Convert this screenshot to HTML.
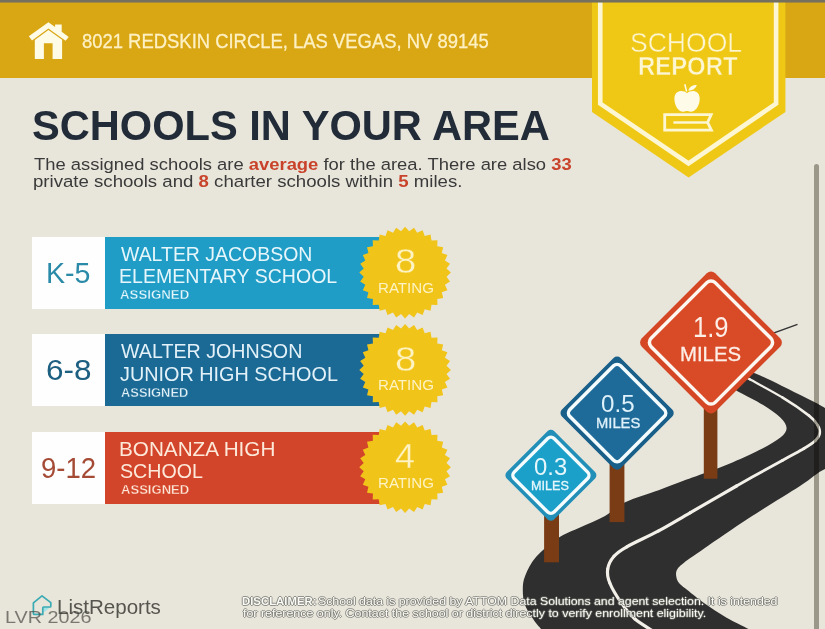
<!DOCTYPE html>
<html><head><meta charset="utf-8">
<style>
html,body{margin:0;padding:0;}
body{width:825px;height:629px;overflow:hidden;position:relative;background:#e8e5db;font-family:"Liberation Sans",sans-serif;}
.a{position:absolute;white-space:nowrap;}
.t{position:absolute;white-space:nowrap;line-height:1;transform-origin:0 0;}
.t b{font-weight:700;}
#b1 b,#b2 b{color:#c9432b;}
</style></head><body>
<div class="a" style="left:0;top:2px;width:825px;height:75.5px;background:#d9a614"></div>
<div class="a" style="left:32px;top:236.8px;width:73px;height:72px;background:#fefefe"></div>
<div class="a" style="left:105px;top:236.8px;width:275px;height:72px;background:#1f9dc6"></div>
<div class="a" style="left:32px;top:334.2px;width:73px;height:72px;background:#fefefe"></div>
<div class="a" style="left:105px;top:334.2px;width:275px;height:72px;background:#1b6a95"></div>
<div class="a" style="left:32px;top:431.6px;width:73px;height:72px;background:#fefefe"></div>
<div class="a" style="left:105px;top:431.6px;width:275px;height:72px;background:#d3452a"></div>
<svg class="a" style="left:0;top:0" width="825" height="629" viewBox="0 0 825 629">
<g fill="#fefbe6"><polygon points="28.8,36.2 48.4,22.2 55.1,27 55.1,24.6 61.7,24.6 61.7,31.7 68.7,36.9 65.6,40.7 48.4,28.5 32,40.4"/><path d="M34.8,58.9 L34.8,39.9 L48.4,29.9 L62.1,39.7 L62.1,58.9 L52.6,58.9 L52.6,43.2 L43.9,43.2 L43.9,58.9 Z"/></g>
<polygon fill="#efc816" points="592,0 785.4,0 785.4,112 688.6,177.6 592,112"/>
<polyline fill="none" stroke="#fdf6d2" stroke-width="4.6" stroke-linejoin="miter" points="600.25,0 600.25,103.6 688.5,163.4 776.1,103.6 776.1,0"/>
<g fill="#fefbe8"><path d="M687,93.2 C683.5,89.6 674.4,89.6 674.4,98.8 C674.4,106 678.6,111.8 683.2,111.8 C685.2,111.8 686,111.1 687,111.1 C688,111.1 688.8,111.8 690.8,111.8 C695.4,111.8 699.7,106 699.7,98.8 C699.7,89.6 690.5,89.6 687,93.2 Z"/><path d="M688.3,90.5 C689.5,86.5 693,84.8 696.8,84.9 C695.6,88.6 692.2,90.6 688.3,90.5 Z"/></g>
<path d="M684.8,84.2 L686.6,91.5" stroke="#fefbe8" stroke-width="1.5" fill="none"/>
<path d="M664.7,114.6 L711.2,114.6 L707.6,122.4 L711.4,130.2 L664.7,130.2 Z" fill="none" stroke="#fdf6d2" stroke-width="2.8" stroke-linejoin="miter"/>
<path d="M673.4,122.6 L708,122.6" stroke="#fdf6d2" stroke-width="2.5"/>
<polygon fill="#f1c419" points="405.10,226.80 409.18,231.20 414.04,227.68 417.18,232.79 422.63,230.29 424.71,235.91 430.55,234.52 431.49,240.44 437.49,240.21 437.26,246.21 443.18,247.15 441.79,252.99 447.41,255.07 444.91,260.52 450.02,263.66 446.50,268.52 450.90,272.60 446.50,276.68 450.02,281.54 444.91,284.68 447.41,290.13 441.79,292.21 443.18,298.05 437.26,298.99 437.49,304.99 431.49,304.76 430.55,310.68 424.71,309.29 422.63,314.91 417.18,312.41 414.04,317.52 409.18,314.00 405.10,318.40 401.02,314.00 396.16,317.52 393.02,312.41 387.57,314.91 385.49,309.29 379.65,310.68 378.71,304.76 372.71,304.99 372.94,298.99 367.02,298.05 368.41,292.21 362.79,290.13 365.29,284.68 360.18,281.54 363.70,276.68 359.30,272.60 363.70,268.52 360.18,263.66 365.29,260.52 362.79,255.07 368.41,252.99 367.02,247.15 372.94,246.21 372.71,240.21 378.71,240.44 379.65,234.52 385.49,235.91 387.57,230.29 393.02,232.79 396.16,227.68 401.02,231.20"/>
<polygon fill="#f1c419" points="405.10,324.10 409.18,328.50 414.04,324.98 417.18,330.09 422.63,327.59 424.71,333.21 430.55,331.82 431.49,337.74 437.49,337.51 437.26,343.51 443.18,344.45 441.79,350.29 447.41,352.37 444.91,357.82 450.02,360.96 446.50,365.82 450.90,369.90 446.50,373.98 450.02,378.84 444.91,381.98 447.41,387.43 441.79,389.51 443.18,395.35 437.26,396.29 437.49,402.29 431.49,402.06 430.55,407.98 424.71,406.59 422.63,412.21 417.18,409.71 414.04,414.82 409.18,411.30 405.10,415.70 401.02,411.30 396.16,414.82 393.02,409.71 387.57,412.21 385.49,406.59 379.65,407.98 378.71,402.06 372.71,402.29 372.94,396.29 367.02,395.35 368.41,389.51 362.79,387.43 365.29,381.98 360.18,378.84 363.70,373.98 359.30,369.90 363.70,365.82 360.18,360.96 365.29,357.82 362.79,352.37 368.41,350.29 367.02,344.45 372.94,343.51 372.71,337.51 378.71,337.74 379.65,331.82 385.49,333.21 387.57,327.59 393.02,330.09 396.16,324.98 401.02,328.50"/>
<polygon fill="#f1c419" points="405.10,421.40 409.18,425.80 414.04,422.28 417.18,427.39 422.63,424.89 424.71,430.51 430.55,429.12 431.49,435.04 437.49,434.81 437.26,440.81 443.18,441.75 441.79,447.59 447.41,449.67 444.91,455.12 450.02,458.26 446.50,463.12 450.90,467.20 446.50,471.28 450.02,476.14 444.91,479.28 447.41,484.73 441.79,486.81 443.18,492.65 437.26,493.59 437.49,499.59 431.49,499.36 430.55,505.28 424.71,503.89 422.63,509.51 417.18,507.01 414.04,512.12 409.18,508.60 405.10,513.00 401.02,508.60 396.16,512.12 393.02,507.01 387.57,509.51 385.49,503.89 379.65,505.28 378.71,499.36 372.71,499.59 372.94,493.59 367.02,492.65 368.41,486.81 362.79,484.73 365.29,479.28 360.18,476.14 363.70,471.28 359.30,467.20 363.70,463.12 360.18,458.26 365.29,455.12 362.79,449.67 368.41,447.59 367.02,441.75 372.94,440.81 372.71,434.81 378.71,435.04 379.65,429.12 385.49,430.51 387.57,424.89 393.02,427.39 396.16,422.28 401.02,425.80"/>
<path fill="#2f2f2f" d="M541.0,632.0 C541.0,631.5 542.1,630.8 541.0,629.0 C539.9,627.2 537.2,625.2 534.6,621.3 C532.0,617.4 527.2,610.8 525.2,605.6 C523.2,600.4 522.8,595.0 522.8,590.0 C522.8,585.0 523.0,581.2 525.2,575.7 C527.4,570.2 530.7,563.1 536.2,556.8 C541.7,550.5 551.0,542.8 558.3,537.9 C565.6,533.0 572.2,531.1 580.0,527.5 C587.8,523.9 597.5,520.2 605.0,516.0 C612.5,511.8 616.3,506.6 625.2,502.3 C634.1,498.0 648.8,493.9 658.6,490.3 C668.4,486.7 676.4,483.4 684.0,480.6 C691.6,477.8 696.0,476.4 704.2,473.3 C712.4,470.2 723.4,466.3 733.0,462.2 C742.6,458.1 754.0,452.9 761.9,448.8 C769.8,444.7 776.3,440.9 780.4,437.5 C784.5,434.1 786.6,431.5 786.6,428.2 C786.6,424.9 784.2,421.4 780.3,417.5 C776.4,413.6 770.2,409.3 763.2,405.0 C756.2,400.7 744.3,395.0 738.4,391.7 C732.5,388.4 729.7,386.1 728.0,385.0 L735.0,368.0 C738.4,368.9 747.7,370.6 755.5,373.6 C763.3,376.6 772.5,381.4 782.0,386.0 C791.5,390.6 805.6,397.6 812.8,401.3 C820.0,405.0 818.8,404.4 825.0,408.0 C831.2,411.6 843.8,416.7 850.0,423.0 C856.2,429.3 862.0,439.3 862.0,446.0 C862.0,452.7 856.2,459.2 850.0,463.0 C843.8,466.8 833.3,465.2 825.0,469.0 C816.7,472.8 812.7,477.8 800.0,486.0 C787.3,494.2 764.9,507.6 749.0,518.0 C733.1,528.4 715.3,540.8 704.5,548.3 C693.7,555.8 688.5,559.2 684.0,562.7 C679.5,566.2 678.5,567.3 677.2,569.5 C675.9,571.7 675.9,573.8 676.2,576.0 C676.5,578.2 677.1,580.7 679.0,583.0 C680.9,585.3 683.0,586.6 687.3,590.0 C691.6,593.4 698.2,599.0 704.7,603.6 C711.2,608.2 719.3,613.6 726.6,617.8 C733.9,622.0 744.2,626.6 748.4,629.0 C752.6,631.4 751.4,631.5 752.0,632.0 Z"/>
<path d="M760,338 L797.5,324.3" stroke="#333" stroke-width="1.3" fill="none"/>
<path fill="none" stroke="#f2f0e8" stroke-linecap="round" stroke-width="3.2" d="M654.5,632.0 C651.2,629.8 640.5,623.7 635.0,619.0"/>
<path fill="none" stroke="#f2f0e8" stroke-linecap="round" stroke-width="3.2" d="M635.0,619.0 C629.5,614.3 626.0,609.6 621.8,603.6"/>
<path fill="none" stroke="#f2f0e8" stroke-linecap="round" stroke-width="3.2" d="M621.8,603.6 C617.6,597.6 612.1,588.8 609.8,583.0"/>
<path fill="none" stroke="#f2f0e8" stroke-linecap="round" stroke-width="3.2" d="M609.8,583.0 C607.4,577.2 607.0,573.5 607.7,569.0"/>
<path fill="none" stroke="#f2f0e8" stroke-linecap="round" stroke-width="3.2" d="M607.7,569.0 C608.4,564.5 610.8,560.0 614.0,556.3"/>
<path fill="none" stroke="#f2f0e8" stroke-linecap="round" stroke-width="3.2" d="M614.0,556.3 C617.2,552.6 619.4,551.0 626.8,546.8"/>
<path fill="none" stroke="#f2f0e8" stroke-linecap="round" stroke-width="3.2" d="M626.8,546.8 C634.2,542.6 648.0,536.6 658.6,530.9"/>
<path fill="none" stroke="#f2f0e8" stroke-linecap="round" stroke-width="3.2" d="M658.6,530.9 C669.2,525.2 677.4,520.1 690.4,512.6"/>
<path fill="none" stroke="#f2f0e8" stroke-linecap="round" stroke-width="3.2" d="M690.4,512.6 C703.4,505.1 721.2,494.7 736.5,486.0"/>
<path fill="none" stroke="#f2f0e8" stroke-linecap="round" stroke-width="2.9" d="M736.5,486.0 C751.8,477.3 771.0,466.6 782.3,460.4"/>
<path fill="none" stroke="#f2f0e8" stroke-linecap="round" stroke-width="2.9" d="M782.3,460.4 C793.5,454.1 798.5,451.8 804.0,448.5"/>
<path fill="none" stroke="#f2f0e8" stroke-linecap="round" stroke-width="2.9" d="M804.0,448.5 C809.5,445.2 812.9,443.1 815.5,440.5"/>
<path fill="none" stroke="#f2f0e8" stroke-linecap="round" stroke-width="2.6" d="M815.5,440.5 C818.1,437.9 819.5,435.6 819.8,433.0"/>
<path fill="none" stroke="#f2f0e8" stroke-linecap="round" stroke-width="2.6" d="M819.8,433.0 C820.1,430.4 819.3,427.9 817.5,425.0"/>
<path fill="none" stroke="#f2f0e8" stroke-linecap="round" stroke-width="2.6" d="M817.5,425.0 C815.7,422.1 814.9,420.2 809.0,415.6"/>
<path fill="none" stroke="#f2f0e8" stroke-linecap="round" stroke-width="2.6" d="M809.0,415.6 C803.1,411.0 792.2,403.4 782.3,397.4"/>
<path fill="none" stroke="#f2f0e8" stroke-linecap="round" stroke-width="2.2" d="M782.3,397.4 C772.4,391.3 757.2,383.4 749.8,379.3"/>
<path fill="none" stroke="#f2f0e8" stroke-linecap="round" stroke-width="2.2" d="M749.8,379.3 C742.4,375.2 740.0,374.1 738.0,373.0"/>
<rect x="703.8" y="400.0" width="13.6" height="78.7" fill="#7a3c14"/>
<rect x="609.6" y="455.0" width="14.8" height="67.1" fill="#7a3c14"/>
<rect x="544.1" y="510.0" width="14.9" height="52.3" fill="#7a3c14"/>
<g transform="translate(550.90,475.30) rotate(45)"><rect x="-33.49" y="-33.49" width="66.98" height="66.98" rx="4.50" fill="#218fb7"/><rect x="-28.22" y="-28.22" width="56.45" height="56.45" rx="4.50" fill="#1ba0ca" stroke="#f4fcfd" stroke-width="3.40"/></g>
<g transform="translate(617.10,413.05) rotate(45)"><rect x="-41.49" y="-41.49" width="82.97" height="82.97" rx="5.00" fill="#185f8a"/><rect x="-35.87" y="-35.87" width="71.73" height="71.73" rx="5.00" fill="#1e6a98" stroke="#f4fcfd" stroke-width="3.50"/></g>
<g transform="translate(711.00,342.50) rotate(45)"><rect x="-51.86" y="-51.86" width="103.72" height="103.72" rx="5.90" fill="#d44624"/><rect x="-45.29" y="-45.29" width="90.57" height="90.57" rx="5.90" fill="#d94a27" stroke="#fdf7f2" stroke-width="3.50"/></g>
<path d="M43.6,607.2 L50.2,607.2 L43.6,612.5 Z" fill="#9fe3e8"/>
<path d="M42.8,614.4 L34.4,614.4 Q33.4,614.4 33.4,613.4 L33.4,602.8 L42,595.9 L50.8,602.6 L50.8,606.2 Q50.8,607 50,607 L43.6,607 Q42.8,607 42.8,607.8 Z" fill="none" stroke="#3aaab3" stroke-width="1.7" stroke-linejoin="round"/>
</svg>
<div class="t" id="addr" style="left:82.09px;top:30.77px;font-size:20.35px;font-weight:400;color:#fdf1c4;transform:scaleX(0.9060);-webkit-text-stroke:0.3px #fdf1c4;">8021 REDSKIN CIRCLE, LAS VEGAS, NV 89145</div>
<div class="t" id="title" style="left:32.44px;top:104.00px;font-size:42.88px;font-weight:700;color:#222c38;transform:scaleX(0.9704);">SCHOOLS IN YOUR AREA</div>
<div class="t" id="b1" style="left:33.96px;top:156.59px;font-size:16.90px;font-weight:400;color:#3a3a3a;transform:scaleX(1.0893);">The assigned schools are <b>average</b> for the area. There are also <b>33</b></div>
<div class="t" id="b2" style="left:32.85px;top:173.79px;font-size:16.90px;font-weight:400;color:#3a3a3a;transform:scaleX(1.1021);">private schools and <b>8</b> charter schools within <b>5</b> miles.</div>
<div class="t" id="sch" style="left:630.46px;top:29.37px;font-size:27.91px;font-weight:400;color:#fdf6d2;transform:scaleX(0.9510);-webkit-text-stroke:0.45px #efc816;">SCHOOL</div>
<div class="t" id="rep" style="left:637.56px;top:53.40px;font-size:26.45px;font-weight:700;color:#fdf6d2;transform:scaleX(0.9028);-webkit-text-stroke:0.5px #efc816;">REPORT</div>
<div class="t" id="g0" style="left:46.28px;top:258.09px;font-size:29.65px;font-weight:400;color:#2b8aa8;transform:scaleX(0.9652);">K-5</div>
<div class="t" id="n0a" style="left:121.00px;top:245.09px;font-size:19.62px;font-weight:400;color:#e6f6fb;transform:scaleX(0.9922);">WALTER JACOBSON</div>
<div class="t" id="n0b" style="left:119.02px;top:267.26px;font-size:19.77px;font-weight:400;color:#e6f6fb;transform:scaleX(0.9885);">ELEMENTARY SCHOOL</div>
<div class="t" id="as0" style="left:119.98px;top:288.28px;font-size:13.37px;font-weight:700;color:#e6f6fb;transform:scaleX(0.9932);-webkit-text-stroke:0.35px #1f9dc6;">ASSIGNED</div>
<div class="t" id="bn0" style="left:394.61px;top:243.73px;font-size:34.57px;font-weight:400;color:#fdf3c4;transform:scaleX(1.1064);-webkit-text-stroke:0.35px #f1c419;">8</div>
<div class="t" id="br0" style="left:377.77px;top:281.07px;font-size:14.68px;font-weight:400;color:#fdf3c4;transform:scaleX(1.0290);">RATING</div>
<div class="t" id="g1" style="left:45.91px;top:355.49px;font-size:29.65px;font-weight:400;color:#1d5f80;transform:scaleX(1.0627);">6-8</div>
<div class="t" id="n1a" style="left:121.00px;top:342.49px;font-size:19.62px;font-weight:400;color:#e3f1f8;transform:scaleX(1.0028);">WALTER JOHNSON</div>
<div class="t" id="n1b" style="left:120.00px;top:364.66px;font-size:19.77px;font-weight:400;color:#e3f1f8;transform:scaleX(1.0023);">JUNIOR HIGH SCHOOL</div>
<div class="t" id="as1" style="left:121.00px;top:385.68px;font-size:13.37px;font-weight:700;color:#e3f1f8;transform:scaleX(0.9640);-webkit-text-stroke:0.35px #1b6a95;">ASSIGNED</div>
<div class="t" id="bn1" style="left:394.61px;top:341.93px;font-size:34.57px;font-weight:400;color:#fdf3c4;transform:scaleX(1.1064);-webkit-text-stroke:0.35px #f1c419;">8</div>
<div class="t" id="br1" style="left:377.77px;top:377.87px;font-size:14.68px;font-weight:400;color:#fdf3c4;transform:scaleX(1.0290);">RATING</div>
<div class="t" id="g2" style="left:40.92px;top:452.89px;font-size:29.65px;font-weight:400;color:#a44a35;transform:scaleX(0.9288);">9-12</div>
<div class="t" id="n2a" style="left:118.89px;top:439.89px;font-size:19.62px;font-weight:400;color:#fde9d9;transform:scaleX(1.0552);">BONANZA HIGH</div>
<div class="t" id="n2b" style="left:120.01px;top:462.06px;font-size:19.77px;font-weight:400;color:#fde9d9;transform:scaleX(0.9940);">SCHOOL</div>
<div class="t" id="as2" style="left:121.00px;top:483.08px;font-size:13.37px;font-weight:700;color:#fde9d9;transform:scaleX(0.9783);-webkit-text-stroke:0.35px #d3452a;">ASSIGNED</div>
<div class="t" id="bn2" style="left:394.77px;top:439.13px;font-size:34.57px;font-weight:400;color:#fdf3c4;transform:scaleX(1.0413);-webkit-text-stroke:0.35px #f1c419;">4</div>
<div class="t" id="br2" style="left:377.77px;top:475.67px;font-size:14.68px;font-weight:400;color:#fdf3c4;transform:scaleX(1.0290);">RATING</div>
<div class="t" id="m19" style="left:692.50px;top:312.26px;font-size:29.57px;font-weight:400;color:#fdeee6;transform:scaleX(0.8634);">1.9</div>
<div class="t" id="mi19" style="left:680.47px;top:344.17px;font-size:20.35px;font-weight:400;color:#fdeee6;transform:scaleX(1.0006);-webkit-text-stroke:0.3px #fdeee6;">MILES</div>
<div class="t" id="m05" style="left:601.20px;top:391.64px;font-size:24.29px;font-weight:400;color:#dff1fa;transform:scaleX(0.9940);">0.5</div>
<div class="t" id="mi05" style="left:595.61px;top:415.72px;font-size:14.97px;font-weight:400;color:#dff1fa;transform:scaleX(0.9864);-webkit-text-stroke:0.3px #dff1fa;">MILES</div>
<div class="t" id="m03" style="left:534.39px;top:454.64px;font-size:24.29px;font-weight:400;color:#e6f7fc;transform:scaleX(0.9818);">0.3</div>
<div class="t" id="mi03" style="left:531.35px;top:479.00px;font-size:13.23px;font-weight:400;color:#e6f7fc;transform:scaleX(0.9583);-webkit-text-stroke:0.3px #e6f7fc;">MILES</div>
<div class="t" id="lr" style="left:57.13px;top:598.24px;font-size:19.55px;font-weight:400;color:#56564f;transform:scaleX(1.0516);">ListReports</div>
<div class="t" id="lvr" style="left:4.96px;top:610.35px;font-size:16.72px;font-weight:400;color:rgba(62,62,56,0.66);transform:scaleX(1.1832);">LVR 2026</div>
<div class="t" id="d1a" style="left:241.82px;top:594.75px;font-size:11.63px;font-weight:400;color:#fbfbf7;transform:scaleX(0.9770);text-shadow:1px 0 0 rgba(110,110,102,.7),-1px 0 0 rgba(110,110,102,.7),0 1px 0 rgba(110,110,102,.7),0 -1px 0 rgba(110,110,102,.7);"><b>DISCLAIMER:</b></div>
<div class="t" id="d1" style="left:318.16px;top:595.88px;font-size:11.59px;font-weight:400;color:#fbfbf7;transform:scaleX(1.0633);text-shadow:1px 0 0 rgba(110,110,102,.7),-1px 0 0 rgba(110,110,102,.7),0 1px 0 rgba(110,110,102,.7),0 -1px 0 rgba(110,110,102,.7);">School data is provided by ATTOM Data Solutions and agent selection. It is intended</div>
<div class="t" id="d2" style="left:243.14px;top:608.48px;font-size:11.59px;font-weight:400;color:#fbfbf7;transform:scaleX(1.0721);text-shadow:1px 0 0 rgba(110,110,102,.7),-1px 0 0 rgba(110,110,102,.7),0 1px 0 rgba(110,110,102,.7),0 -1px 0 rgba(110,110,102,.7);">for reference only. Contact the school or district directly to verify enrollment eligibility.</div>
<div class="a" style="left:0;top:0;width:825px;height:2px;background:#756f60"></div>
<div class="a" style="left:0;top:2px;width:825px;height:1px;background:rgba(117,111,96,0.55)"></div>
<div class="a" style="left:813.8px;top:163.6px;width:5.5px;height:470px;border-radius:3px;background:#aaa89f;mix-blend-mode:multiply"></div>
</body></html>
